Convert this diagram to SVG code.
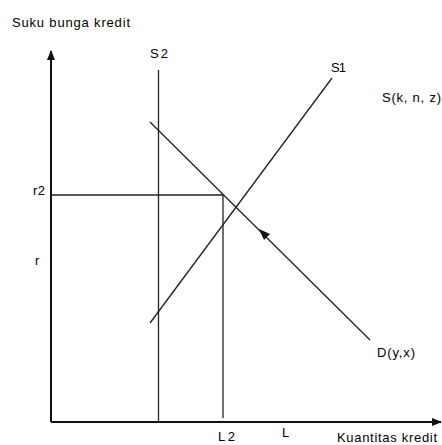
<svg xmlns="http://www.w3.org/2000/svg" width="442" height="445" viewBox="0 0 442 445">
<style>
text{font-family:"Liberation Sans",Arial,sans-serif;font-size:13px;fill:#000}
.ax{stroke:#111;stroke-width:2;fill:none}
.ln{stroke:#222;stroke-width:1.3;fill:none}
</style>
<defs>
<marker id="ah" markerWidth="10" markerHeight="10" refX="9" refY="5" orient="auto" markerUnits="userSpaceOnUse">
<path d="M0,1 L10,5 L0,9 Z" fill="#111"/>
</marker>
</defs>
<rect width="442" height="445" fill="#fff"/>
<g id="axes">
<line class="ax" x1="51" y1="422" x2="51" y2="51" marker-end="url(#ah)"/>
<line class="ax" x1="51" y1="422" x2="441" y2="422" marker-end="url(#ah)"/>
<text x="12" y="27" textLength="118" lengthAdjust="spacing">Suku bunga kredit</text>
<text x="337" y="442" textLength="100" lengthAdjust="spacing">Kuantitas kredit</text>
</g>
<g id="connectors">
<line class="ln" x1="51" y1="195" x2="223" y2="195"/>
<line class="ln" x1="223" y1="195" x2="223" y2="418"/>
</g>
<g id="S2">
<line class="ln" x1="158.5" y1="70" x2="158.5" y2="422"/>
<text x="150" y="58" textLength="18" lengthAdjust="spacing">S2</text>
</g>
<g id="S1">
<line class="ln" x1="150" y1="323" x2="332" y2="78"/>
<text x="331" y="72" textLength="15" lengthAdjust="spacing">S1</text>
</g>
<g id="Skn">
<text x="382" y="102" textLength="59" lengthAdjust="spacing">S(k, n, z)</text>
</g>
<g id="D">
<line class="ln" x1="150" y1="122" x2="370" y2="340"/>
<path d="M259,229 L270,234 L264,240 Z" fill="#111"/>
<text x="377" y="357" textLength="38" lengthAdjust="spacing">D(y,x)</text>
</g>
<g id="labels">
<text x="33" y="195" textLength="12" lengthAdjust="spacing">r2</text>
<text x="35" y="265">r</text>
<text x="218" y="441" textLength="17" lengthAdjust="spacing">L2</text>
<text x="282" y="437">L</text>
</g>
</svg>
